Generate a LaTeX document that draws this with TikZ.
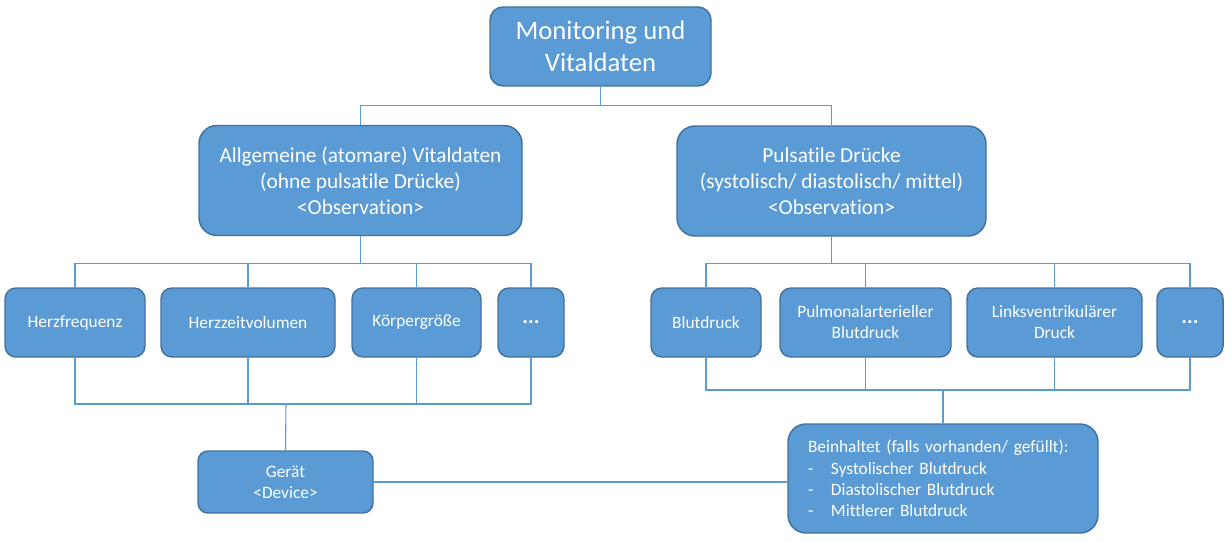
\documentclass[tikz,border=0pt]{standalone}
\usepackage{fontspec}
\setmainfont{Carlito}[Ligatures=NoCommon]
\definecolor{boxfill}{HTML}{5B9BD5}
\definecolor{boxline}{HTML}{41719C}
\newdimen\px \px=0.75pt
\begin{document}
\begin{tikzpicture}
		[	x=0.75pt, y=-0.75pt,
		box/.style={rectangle, draw=boxline, line width=1.1pt, fill=boxfill, text=white, align=center, inner sep=2pt},
		head/.style={box, rounded corners=13\px, minimum width=221\px, minimum height=79\px, font=\fontsize{20}{24.4}\selectfont},
		group/.style={box, rounded corners=18\px, minimum height=110\px, font=\fontsize{16}{19.5}\selectfont},
		leaf/.style={box, rounded corners=11\px, minimum height=69\px, font=\fontsize{13}{15.8}\selectfont},
		note/.style={box, rounded corners=18\px, align=left, text width=270\px, inner xsep=20\px, minimum height=109\px, font=\fontsize{13}{16}\selectfont},
		conn/.style={draw=boxfill, line width=0.8pt}
		]
		\useasboundingbox (0,0) rectangle (1231,542);

		\node[head] (title) at (600.5,46.5) {Monitoring und\\Vitaldaten};

		\node[group, minimum width=323\px] (allg) at (360.5,180.5) {Allgemeine (atomare) Vitaldaten\\(ohne pulsatile Drücke)\\<Observation>};
		\node[group, minimum width=309\px] (puls) at (831.5,181) {Pulsatile Drücke\\(systolisch/ diastolisch/ mittel)\\<Observation>};

		% left group
		\node[leaf, minimum width=140\px] (herzf) at (75,322.5) {Herzfrequenz};
		\node[leaf, minimum width=174\px] (herzz) at (248,322.5) {Herzzeitvolumen};
		\node[leaf, minimum width=129\px] (koerper) at (416.5,322.5) {Körpergröße};
		\node[leaf, minimum width=66\px, font=\fontsize{16}{19.5}\selectfont\bfseries] (dotsA) at (531,322.5) {...};

		% right group
		\node[leaf, minimum width=110\px] (blut) at (706,322.5) {Blutdruck};
		\node[leaf, minimum width=171\px] (pulm) at (865.5,322.5) {Pulmonalarterieller\\Blutdruck};
		\node[leaf, minimum width=175\px] (links) at (1054.5,322.5) {Linksventrikulärer\\Druck};
		\node[leaf, minimum width=66\px, font=\fontsize{16}{19.5}\selectfont\bfseries] (dotsB) at (1190,322.5) {...};

		\node[leaf, rounded corners=10\px, minimum width=175\px, minimum height=62\px] (geraet) at (285.5,482) {Gerät\\<Device>};
		\node[note] (inhalt) at (943,478.5) {Beinhaltet (falls vorhanden/ gefüllt):\\
			\makebox[23\px][l]{-}Systolischer Blutdruck\\
			\makebox[23\px][l]{-}Diastolischer Blutdruck\\
			\makebox[23\px][l]{-}Mittlerer Blutdruck};

		\coordinate (sumA) at (286,404);
		\coordinate (sumB) at (943,390);

		\draw[conn] (title.south) -- ++(0,19) -| (allg.north);
		\draw[conn] (title.south) -- ++(0,19) -| (puls.north);
		\foreach \n in {herzf,herzz,koerper,dotsA}
			\draw[conn] (allg.south) -- ++(0,27) -| (\n.north);
		\foreach \n in {blut,pulm,links,dotsB}
			\draw[conn] (puls.south) -- ++(0,27) -| (\n.north);
		\foreach \n in {herzf,herzz,koerper,dotsA}
			\draw[conn] (\n.south) |- (sumA);
		\foreach \n in {blut,pulm,links,dotsB}
			\draw[conn] (\n.south) |- (sumB);
		\draw[conn] (sumA) -- (geraet.north);
		\draw[conn] (sumB) -- (inhalt.north);
		\draw[conn] (geraet.east) -- (geraet.east -| inhalt.west);
	\end{tikzpicture}
\end{document}
